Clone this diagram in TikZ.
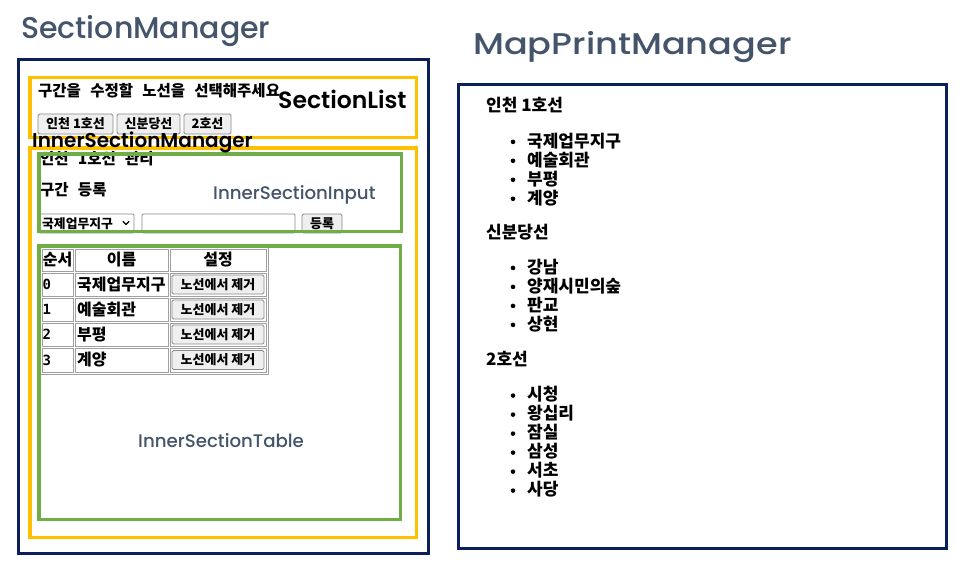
\documentclass[tikz,border=0pt]{standalone}
\usepackage{fontspec}
\setmainfont{Noto Sans CJK KR}
\newfontfamily\kr{Noto Sans CJK KR}[Scale=1.001, WordSpace=2.6]
\newfontfamily\krn{Noto Sans CJK KR}
\newfontfamily\monofont{DejaVu Sans Mono}
\newfontfamily\popp{Poppins}
\newfontfamily\poppm{Poppins Medium}
\newfontfamily\popps{Poppins SemiBold}
\definecolor{navy}{HTML}{0B1F5C}
\definecolor{gold}{HTML}{FFC000}
\definecolor{grn}{HTML}{70AD47}
\definecolor{slate}{HTML}{44546A}
\definecolor{btnline}{HTML}{8A8A8A}
\definecolor{btnfill}{HTML}{EFEFEF}
\definecolor{cellline}{HTML}{A0A0A0}
\tikzset{
  navybox/.style={draw=navy, line width=3pt},
  yelbox/.style={draw=gold, line width=3.5pt},
  grnbox/.style={draw=grn, line width=3.5pt},
  titletext/.style={font=\poppm\fontsize{30}{30}\selectfont, text=slate, anchor=base west, inner sep=0pt},
  slatelabel/.style={font=\poppm\fontsize{18.2}{18.2}\selectfont, text=slate, anchor=base west, inner sep=0pt},
  blacklabel/.style={font=\popps\fontsize{20}{20}\selectfont, text=black, anchor=base west, inner sep=0pt},
  ktext/.style={font=\kr\bfseries\fontsize{15.5}{15.5}\selectfont, anchor=base west, inner sep=0pt},
  mptext/.style={font=\krn\bfseries\fontsize{17}{17}\selectfont, anchor=west, inner sep=0pt},
  btn/.style={draw=btnline, fill=btnfill, rounded corners=1.5pt, line width=0.8pt},
  btntext/.style={font=\krn\bfseries\fontsize{13}{13}\selectfont, inner sep=0pt},
  cell/.style={draw=cellline, line width=1pt},
  celltext/.style={font=\krn\bfseries\fontsize{16}{16}\selectfont, inner sep=0pt},
  field/.style={draw=btnline, fill=white, line width=0.8pt, rounded corners=1pt},
  bulletdot/.style={fill=black, circle, inner sep=0pt, minimum size=4.6pt},
}
\begin{document}
\begin{tikzpicture}[x=1pt,y=-1pt]
\useasboundingbox (0,0) rectangle (968,567);
\fill[white] (0,0) rectangle (968,567);

% ---------- titles ----------
\node[titletext] (smtitle) at (21,38.3) {SectionManager};
\node[titletext] (mptitle) at (473,55) {\scalebox{1.17}[1]{MapPrintManager}};

% ---------- SectionManager frame ----------
\draw[navybox] (18.5,59.5) rectangle (428.5,553.5);

% SectionList
\node[ktext] (prompt) at (38,96.5) {구간을 수정할 노선을 선택해주세요};
\draw[btn] (38,114) rectangle (113,134);
\node[btntext] (b1) at (75.5,124) {인천 1호선};
\draw[btn] (117,114) rectangle (180,134);
\node[btntext] (b2) at (148.5,124) {신분당선};
\draw[btn] (184,114) rectangle (231,134);
\node[btntext] (b3) at (207.5,124) {2호선};
\draw[yelbox] (29.75,77.75) rectangle (416.25,137.25);
\node[blacklabel, font=\popps\fontsize{23.5}{23.5}\selectfont] (sllabel) at (278,109) {SectionList};

% InnerSectionInput
\node[ktext] (mgmt) at (40,164.5) {인천 1호선 관리};
\node[ktext] (reg) at (40,195.5) {구간 등록};
\node[slatelabel] (isilabel) at (213,199) {InnerSectionInput};
\draw[field] (39,214) rectangle (134,233);
\node[btntext, anchor=west, font=\krn\bfseries\fontsize{12.8}{12.8}\selectfont] (sel) at (42,223.5) {국제업무지구};
\draw[line width=1.3pt, line cap=round, line join=round] (123,221.5) -- (126,224.5) -- (129,221.5);
\draw[field] (142,214) rectangle (295,233);
\draw[btn] (302,214) rectangle (342,233);
\node[btntext] (regbtn) at (322,223.5) {등록};
\draw[grnbox] (38.75,153.75) rectangle (401.25,231.25);

% InnerSectionTable
\draw[cell] (40,247) rectangle (268,374);
\foreach \ya/\yb [count=\r from 0] in {249/271,273/296,298/321,323/346,348/372}{
  \draw[cell] (42,\ya) rectangle (73,\yb);
  \draw[cell] (75,\ya) rectangle (168,\yb);
  \draw[cell] (170,\ya) rectangle (266,\yb);
}
\node[celltext] (h1) at (57.5,260) {순서};
\node[celltext] (h2) at (121.5,260) {이름};
\node[celltext] (h3) at (218,260) {설정};
\foreach \yc/\n/\nm [count=\r from 0] in {284.5/0/국제업무지구,309.5/1/예술회관,334.5/2/부평,360/3/계양}{
  \node[celltext, anchor=west, font=\monofont\bfseries\fontsize{14}{14}\selectfont] (num\r) at (42.5,\yc) {\n};
  \node[celltext, anchor=west] (name\r) at (77,\yc) {\nm};
  \draw[btn] (172,\yc-9.5) rectangle (264,\yc+9.5);
  \node[btntext] (rm\r) at (218,\yc) {노선에서 제거};
}
\node[slatelabel] (istlabel) at (138,447) {InnerSectionTable};
\draw[grnbox] (38.75,245.75) rectangle (400.25,519.25);

% InnerSectionManager frame
\draw[yelbox] (29.75,147.75) rectangle (416.25,537.25);
\node[blacklabel] (ismlabel) at (32,147) {InnerSectionManager};

% ---------- MapPrintManager ----------
\draw[navybox] (458.5,84.5) rectangle (946.5,548.5);
\node[mptext] (l1) at (486,105) {인천 1호선};
\foreach \yc/\nm [count=\i] in {140.9/국제업무지구,159.8/예술회관,178.8/부평,197.8/계양}{
  \node[bulletdot] (d1\i) at (513,\yc+1) {};
  \node[mptext] (s1\i) at (527,\yc) {\nm};
}
\node[mptext] (l2) at (486,232.4) {신분당선};
\foreach \yc/\nm [count=\i] in {266.9/강남,285.9/양재시민의숲,304.9/판교,323.9/상현}{
  \node[bulletdot] (d2\i) at (513,\yc+1) {};
  \node[mptext] (s2\i) at (527,\yc) {\nm};
}
\node[mptext] (l3) at (486,359.4) {2호선};
\foreach \yc/\nm [count=\i] in {394.6/시청,413.6/왕십리,432.6/잠실,451.6/삼성,470.6/서초,489.6/사당}{
  \node[bulletdot] (d3\i) at (513,\yc+1) {};
  \node[mptext] (s3\i) at (527,\yc) {\nm};
}
\end{tikzpicture}
\end{document}
